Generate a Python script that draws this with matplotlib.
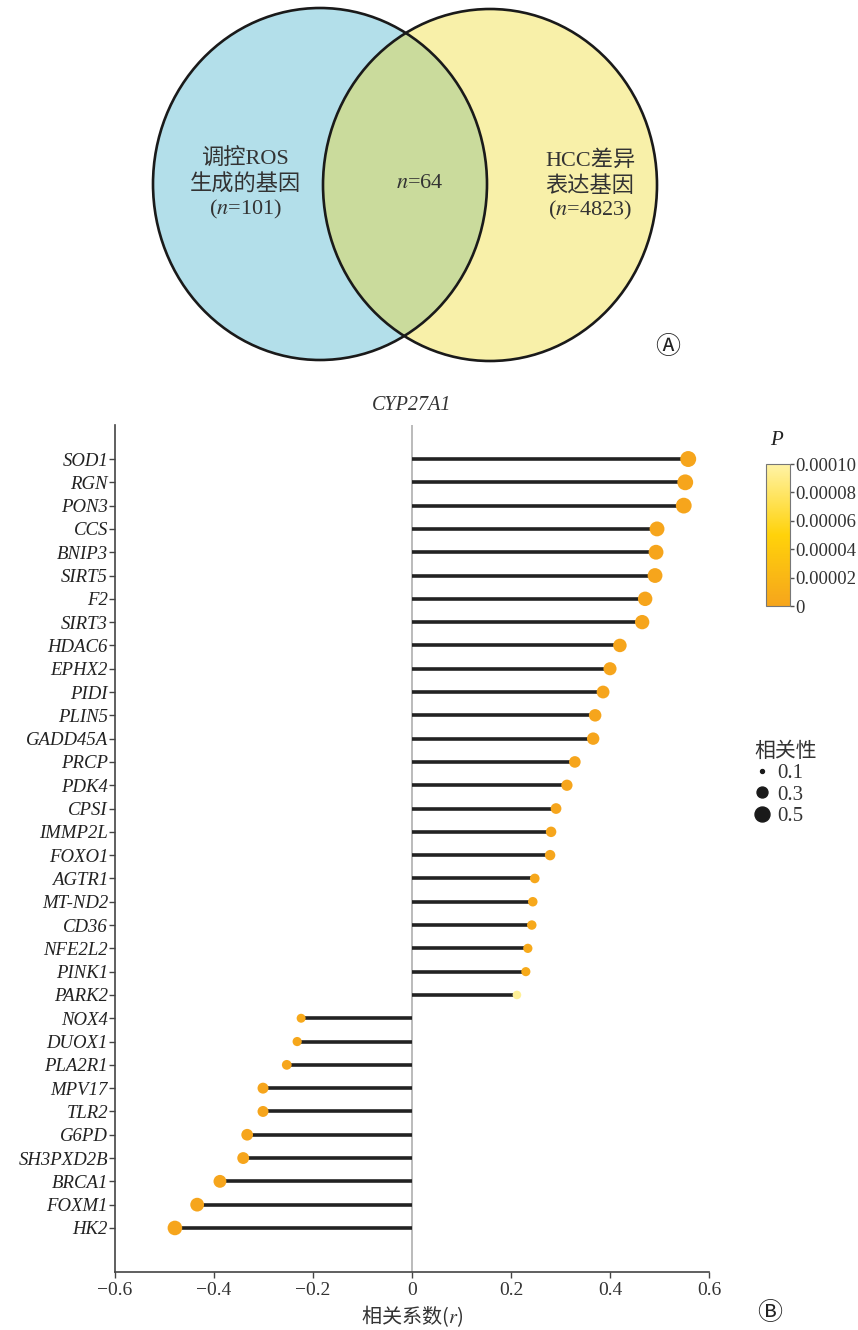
import numpy as np
import matplotlib
matplotlib.use("Agg")
import matplotlib.pyplot as plt
from matplotlib.patches import Ellipse
from matplotlib.colors import LinearSegmentedColormap
from matplotlib.lines import Line2D

plt.rcParams['mathtext.fontset'] = 'stix'
SERIF = ['Liberation Serif', 'Noto Sans CJK SC']
CJK = ['Noto Sans CJK SC', 'DejaVu Sans']

# venn counts
n_ros = 101
n_hcc = 4823
n_common = 64

# correlation of each ROS gene with CYP27A1
genes = ['SOD1', 'RGN', 'PON3', 'CCS', 'BNIP3', 'SIRT5', 'F2', 'SIRT3', 'HDAC6',
         'EPHX2', 'PIDI', 'PLIN5', 'GADD45A', 'PRCP', 'PDK4', 'CPSI', 'IMMP2L',
         'FOXO1', 'AGTR1', 'MT-ND2', 'CD36', 'NFE2L2', 'PINK1', 'PARK2', 'NOX4',
         'DUOX1', 'PLA2R1', 'MPV17', 'TLR2', 'G6PD', 'SH3PXD2B', 'BRCA1', 'FOXM1', 'HK2']
r_vals = [0.558, 0.552, 0.549, 0.495, 0.493, 0.491, 0.471, 0.465, 0.420,
          0.400, 0.386, 0.370, 0.366, 0.329, 0.313, 0.291, 0.281,
          0.279, 0.248, 0.244, 0.242, 0.234, 0.230, 0.212, -0.224,
          -0.232, -0.253, -0.301, -0.301, -0.333, -0.341, -0.388, -0.434, -0.479]
p_vals = [0, 0, 0, 0, 0, 0, 0, 0, 0,
          0, 0, 0, 0, 1e-7, 2e-7, 5e-7, 8e-7,
          8e-7, 3e-6, 3.5e-6, 4e-6, 5e-6, 6e-6, 9.5e-5, 4e-6,
          3e-6, 1.5e-6, 1e-7, 1e-7, 0, 0, 0, 0, 0]
legend_r = [0.1, 0.3, 0.5]

W, H = 858, 1330
fig = plt.figure(figsize=(W / 100, H / 100), dpi=100)


def size_of(r):
    return 270 * (np.abs(np.asarray(r)) - 0.07)


# ---- panel A: venn diagram, drawn in pixel units ----
va = fig.add_axes([0, 1 - 375 / H, 1, 375 / H])
va.set_xlim(0, W)
va.set_ylim(375, 0)
va.axis('off')

left = Ellipse((320, 184), 334, 352, facecolor='#b3dfea', edgecolor='none', zorder=1)
right = Ellipse((490, 185), 334, 352, facecolor='#f8f0a9', edgecolor='none', zorder=1)
va.add_patch(left)
va.add_patch(right)
mid = Ellipse((320, 184), 334, 352, facecolor='#cadb9c', edgecolor='none', zorder=2)
va.add_patch(mid)
mid.set_clip_path(right)
for cx, cy in [(320, 184), (490, 185)]:
    va.add_patch(Ellipse((cx, cy), 334, 352, facecolor='none', edgecolor='#1a1a1a',
                         lw=1.9, zorder=3))

va.text(245, 158, '调控ROS', ha='center', va='center', fontsize=16, family=SERIF, color='#333333')
va.text(245, 184, '生成的基因', ha='center', va='center', fontsize=16, family=CJK, color='#333333')
va.text(245, 209, '($n$=%d)' % n_ros, ha='center', va='center', fontsize=16,
        family='Liberation Serif', color='#333333')
va.text(420, 184, '$n$=%d' % n_common, ha='center', va='center', fontsize=16,
        family='Liberation Serif', color='#333333')
va.text(590, 161, 'HCC差异', ha='center', va='center', fontsize=16, family=SERIF, color='#333333')
va.text(590, 185, '表达基因', ha='center', va='center', fontsize=16, family=CJK, color='#333333')
va.text(590, 210, '($n$=%d)' % n_hcc, ha='center', va='center', fontsize=16,
        family='Liberation Serif', color='#333333')
va.text(668, 347, '\u24b6', ha='center', va='center', fontsize=18,
        family=['DejaVu Sans', 'Noto Sans CJK SC'], color='#222222')

# ---- panel B: lollipop chart ----
ax = fig.add_axes([115 / W, 1 - 1272 / H, 594 / W, 847 / H])
n = len(genes)
y = np.arange(n)[::-1]

cmap = LinearSegmentedColormap.from_list('p', ['#f6a51c', '#ffd20a', '#fff3a6'])

ax.axvline(0, color='#b5b5b5', lw=1.3, zorder=1)
ax.hlines(y, 0, r_vals, color='#222222', lw=2.6, zorder=2)
sc = ax.scatter(r_vals, y, s=size_of(r_vals), c=p_vals, cmap=cmap, vmin=0, vmax=1e-4,
                edgecolors='none', zorder=3)

ax.set_xlim(-0.6, 0.6)
ax.set_ylim(-1.89, n - 1 + 1.46)
ax.set_yticks(y)
ax.set_yticklabels(genes, family='Liberation Serif', style='italic', fontsize=13.5, color='#222222')
ax.set_xticks([-0.6, -0.4, -0.2, 0, 0.2, 0.4, 0.6])
ax.set_xticklabels(['\u22120.6', '\u22120.4', '\u22120.2', '0', '0.2', '0.4', '0.6'],
                   family='Liberation Serif', fontsize=14, color='#333333')
ax.tick_params(axis='both', length=4, width=1, color='#444444', direction='out')
ax.tick_params(axis='y', pad=1)
for s in ['top', 'right']:
    ax.spines[s].set_visible(False)
for s in ['left', 'bottom']:
    ax.spines[s].set_color('#444444')
    ax.spines[s].set_linewidth(1.2)

ax.set_title('CYP27A1', family='Liberation Serif', style='italic', fontsize=14.5,
             color='#333333', pad=11)
ax.set_xlabel('相关系数($r$)', family=CJK, fontsize=14.5, color='#333333', labelpad=3)
fig.text(770 / W, 1 - 1313 / H, '\u24b7', ha='center', va='center', fontsize=18,
         family=['DejaVu Sans', 'Noto Sans CJK SC'], color='#222222')

# colour bar for P
cax = fig.add_axes([766 / W, 1 - 606 / H, 24 / W, 142 / H])
cb = fig.colorbar(sc, cax=cax, ticks=[0, 2e-5, 4e-5, 6e-5, 8e-5, 1e-4])
cb.ax.set_yticklabels(['0', '0.00002', '0.00004', '0.00006', '0.00008', '0.00010'],
                      family='Liberation Serif', fontsize=13.5, color='#333333')
cb.ax.tick_params(length=3, width=1, color='#555555', pad=0.5)
cb.outline.set_edgecolor('#777777')
cb.outline.set_linewidth(0.8)
fig.text(776 / W, 1 - 441 / H, 'P', ha='center', va='center', family='Liberation Serif',
         style='italic', fontsize=15, color='#222222')

# size legend
handles = [Line2D([], [], ls='none', marker='o', color='#1a1a1a',
                  markersize=np.sqrt(size_of(v))) for v in legend_r]
leg = fig.legend(handles, [str(v) for v in legend_r], title='相关性',
                 loc='upper left', bbox_to_anchor=(744 / W, 1 - 729 / H), frameon=False,
                 prop={'family': 'Liberation Serif', 'size': 15},
                 handletextpad=0.4, labelspacing=0.1, handlelength=0.7, borderpad=0)
leg._legend_box.align = 'left'
leg.get_title().set_family(CJK)
leg.get_title().set_fontsize(15)
leg.get_title().set_color('#333333')
for t in leg.get_texts():
    t.set_color('#333333')

fig.savefig('out.png', dpi=100)
